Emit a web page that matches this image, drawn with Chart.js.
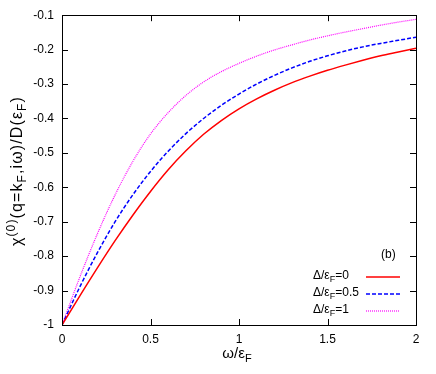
<!DOCTYPE html>
<html>
<head>
<meta charset="utf-8">
<script src="https://cdn.jsdelivr.net/npm/chart.js@4.4.1/dist/chart.umd.min.js"></script>
<style>
  html, body { margin: 0; padding: 0; background: #fff; }
  canvas { display: block; }
</style>
</head>
<body>
<canvas id="chi" width="436" height="374"></canvas>
<script>
// omega / eps_F
const omega = [0, 0.1, 0.2, 0.3, 0.4, 0.5, 0.6, 0.7, 0.8, 0.9, 1.0,
               1.1, 1.2, 1.3, 1.4, 1.5, 1.6, 1.7, 1.8, 1.9, 2.0];
// chi0(q=kF, i omega) / D(eps_F) for the three gaps
const chiGap0  = [-1, -0.916, -0.834, -0.755, -0.681, -0.612, -0.549, -0.494, -0.446, -0.406, -0.372,
                  -0.343, -0.318, -0.296, -0.277, -0.260, -0.245, -0.231, -0.218, -0.207, -0.196];
const chiGap05 = [-1, -0.890, -0.790, -0.700, -0.622, -0.554, -0.495, -0.444, -0.400, -0.362, -0.329,
                  -0.300, -0.275, -0.253, -0.234, -0.218, -0.204, -0.192, -0.182, -0.173, -0.164];
const chiGap1  = [-1, -0.862, -0.735, -0.622, -0.525, -0.445, -0.383, -0.333, -0.294, -0.264, -0.240,
                  -0.219, -0.201, -0.186, -0.172, -0.160, -0.149, -0.139, -0.129, -0.120, -0.112];
const gapLabels = ['0', '0.5', '1'];
const xTicks = [0, 0.5, 1, 1.5, 2];

const FONT = "'Liberation Sans', Arial, sans-serif";

function toPoints(ys){
    return omega.map((x, i) => ({x: x, y: ys[i]}));
}

// text with sub/superscripts: parts = [[text, 'sub'|'sup'|null], ...]
function richWidth(ctx, parts, size){
    var small = Math.round(size * 0.72);
    var w = 0;
    parts.forEach(p => {
        ctx.font = (p[1] ? small : size) + 'px ' + FONT;
        w += ctx.measureText(p[0]).width;
    });
    return w;
}
// target = wanted total length (spreads the glyphs a little), optional
function richText(ctx, parts, cx, cy, size, target){
    var small = Math.round(size * 0.72);
    var w = richWidth(ctx, parts, size);
    var n = parts.reduce((s, p) => s + [...p[0]].length, 0);
    var gap = target ? Math.max(0, (target - w) / n) : 0;
    var x = cx - (w + gap * n) / 2;
    ctx.textAlign = 'left';
    ctx.textBaseline = 'middle';
    parts.forEach(p => {
        ctx.font = (p[1] ? small : size) + 'px ' + FONT;
        var dy = p[1] == 'sub' ? size * 0.3 : (p[1] == 'sup' ? -size * 0.42 : 0);
        [...p[0]].forEach(ch => {
            ctx.fillText(ch, x, cy + dy);
            x += ctx.measureText(ch).width + gap;
        });
    });
}

const styles = [
    {color: '#ff0000', width: 1.5, dash: []},
    {color: '#0000ff', width: 1.5, dash: [4, 2]},
    {color: '#ff00ff', width: 1.2, dash: [1, 1]}
];

// frame, inward ticks, legend and axis titles
const decorPlugin = {
    id: 'decor',
    afterDraw(chart){
        var ctx = chart.ctx;
        var a = chart.chartArea;
        var xs = chart.scales.x, ys = chart.scales.y;
        var tl = 6;
        ctx.save();
        ctx.strokeStyle = '#000';
        ctx.lineWidth = 1;
        ctx.setLineDash([]);
        ctx.beginPath();
        ys.ticks.forEach(t => {
            var y = Math.round(ys.getPixelForValue(t.value)) + 0.5;
            ctx.moveTo(a.left, y); ctx.lineTo(a.left + tl, y);
            ctx.moveTo(a.right, y); ctx.lineTo(a.right - tl, y);
        });
        xs.ticks.forEach(t => {
            var x = Math.round(xs.getPixelForValue(t.value)) + 0.5;
            ctx.moveTo(x, a.bottom); ctx.lineTo(x, a.bottom - tl);
            ctx.moveTo(x, a.top); ctx.lineTo(x, a.top + tl);
        });
        ctx.stroke();
        ctx.strokeRect(Math.round(a.left) + 0.5, Math.round(a.top) + 0.5,
            Math.round(a.right - a.left), Math.round(a.bottom - a.top));

        // legend
        ctx.fillStyle = '#000';
        ctx.font = '12px ' + FONT;
        ctx.textAlign = 'left';
        ctx.textBaseline = 'middle';
        ctx.fillText('(b)', 381, 255);
        var rows = [277, 294, 311];
        gapLabels.forEach((g, i) => {
            var parts = [['Δ/ε', null], ['F', 'sub'], ['=' + g, null]];
            var w = richWidth(ctx, parts, 12);
            ctx.fillStyle = '#000';
            richText(ctx, parts, 313 + w / 2, rows[i] - 1, 12);
            ctx.strokeStyle = styles[i].color;
            ctx.lineWidth = styles[i].width;
            ctx.setLineDash(styles[i].dash);
            ctx.beginPath();
            ctx.moveTo(366, rows[i]);
            ctx.lineTo(400, rows[i]);
            ctx.stroke();
        });
        ctx.setLineDash([]);

        // axis titles
        ctx.fillStyle = '#000';
        richText(ctx, [['ω/ε', null], ['F', 'sub']], 237, 354, 15, 28);
        ctx.translate(18, 171);
        ctx.rotate(-Math.PI / 2);
        richText(ctx, [['χ', null], ['(0)', 'sup'], ['(q=k', null], ['F', 'sub'],
            [',iω)/D(ε', null], ['F', 'sub'], [')', null]], 0, 0, 16, 150);
        ctx.restore();
    }
};

const series = [chiGap0, chiGap05, chiGap1];

new Chart(document.getElementById('chi'), {
    type: 'line',
    data: {
        datasets: series.map((s, i) => ({
            label: 'Δ/εF=' + gapLabels[i],
            data: toPoints(s),
            borderColor: styles[i].color,
            borderWidth: styles[i].width,
            borderDash: styles[i].dash,
            pointRadius: 0,
            fill: false,
            cubicInterpolationMode: 'monotone'
        }))
    },
    options: {
        responsive: false,
        animation: false,
        layout: {padding: {top: 15, right: 20, left: 0, bottom: 0}},
        plugins: {legend: {display: false}, tooltip: {enabled: false}},
        scales: {
            x: {
                type: 'linear', min: 0, max: 2,
                afterBuildTicks: s => { s.ticks = xTicks.map(v => ({value: v})); },
                afterFit: s => { s.height = 49; },
                grid: {display: false, drawTicks: false, tickLength: 0},
                border: {display: false},
                ticks: {color: '#000', padding: 7, font: {family: FONT, size: 12},
                    maxRotation: 0, callback: v => String(v)}
            },
            y: {
                type: 'linear', min: -1, max: -0.1,
                ticks: {stepSize: 0.1, color: '#000', padding: 8, font: {family: FONT, size: 12},
                    callback: v => String(Math.round(v * 10) / 10)},
                afterFit: s => { s.width = 62; },
                grid: {display: false, drawTicks: false, tickLength: 0},
                border: {display: false}
            }
        }
    },
    plugins: [decorPlugin]
});
</script>
</body>
</html>
